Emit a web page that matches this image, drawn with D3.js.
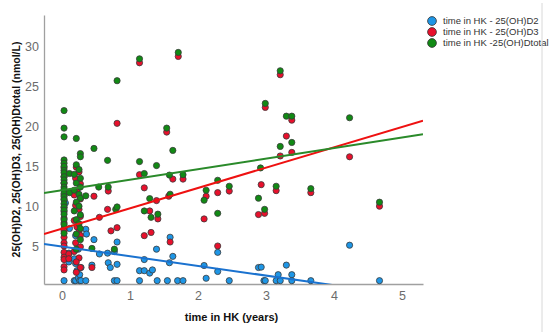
<!DOCTYPE html>
<html>
<head>
<meta charset="utf-8">
<script src="https://cdn.jsdelivr.net/npm/d3@7/dist/d3.min.js"></script>
<style>
  body { margin: 0; background: #fff; }
  svg { display: block; font-family: "Liberation Sans", Arial, sans-serif; }
</style>
</head>
<body>
<div id="graf"></div>
<script>
// Series: [tiempo en HK (años), valor (nmol/L)]
const d2Points = [
  [0.03, 0.65], [0.05, 10.4], [0.11, 7.2], [0.1, 4.1], [0.1, 3.0],
  [0.18, 0.65], [0.18, 3.4], [0.2, 0.65], [0.2, 6.3], [0.2, 2.8], [0.22, 1.9],
  [0.24, 4.6], [0.24, 1.0], [0.26, 0.65], [0.26, 1.4], [0.28, 0.65], [0.28, 2.3],
  [0.35, 7.1], [0.36, 6.5], [0.35, 0.65], [0.44, 2.6], [0.47, 5.8], [0.55, 4.0],
  [0.67, 4.1], [0.68, 2.9], [0.71, 2.3], [0.77, 4.3], [0.77, 0.65], [0.81, 5.5],
  [0.81, 2.7], [0.81, 0.65], [1.14, 1.9], [1.14, 0.65], [1.21, 3.3], [1.21, 1.9],
  [1.29, 1.6], [1.33, 2.0], [1.39, 4.6], [1.4, 0.65], [1.55, 0.65], [1.58, 2.9],
  [1.59, 6.1], [1.63, 3.7], [1.7, 0.65], [1.78, 0.65], [2.09, 2.55], [2.12, 0.95],
  [2.29, 4.2], [2.29, 1.8], [2.46, 0.65], [2.89, 2.3], [2.93, 2.35], [2.97, 0.65],
  [2.99, 0.65], [3.15, 0.65], [3.18, 1.4], [3.21, 0.65], [3.3, 2.6], [3.38, 1.4],
  [3.38, 0.65], [3.66, 0.65], [4.23, 5.1], [4.67, 0.65]
]

const d3Points = [
  [0.03, 14.8], [0.03, 13.7], [0.03, 12.9], [0.03, 11.4], [0.03, 10.9], [0.03, 9.8],
  [0.03, 9.3], [0.03, 8.5], [0.03, 7.9], [0.03, 7.2], [0.03, 6.9], [0.03, 6.1],
  [0.03, 5.4], [0.03, 5.0], [0.03, 4.2], [0.03, 3.6], [0.03, 3.3], [0.03, 2.4],
  [0.03, 2.0], [0.1, 4.0], [0.1, 3.4],
  [0.21, 14.9], [0.25, 14.3], [0.2, 13.5], [0.27, 12.8], [0.22, 12.0], [0.18, 11.4],
  [0.27, 10.9], [0.2, 10.1], [0.25, 9.6], [0.27, 8.7], [0.18, 8.2], [0.22, 7.4],
  [0.25, 6.8], [0.27, 6.3], [0.2, 5.4], [0.27, 4.9], [0.18, 4.3], [0.25, 3.5],
  [0.21, 3.0], [0.27, 2.3], [0.21, 1.7],
  [0.44, 2.3], [0.47, 11.25], [0.55, 8.6], [0.67, 9.6], [0.68, 11.9], [0.72, 6.9],
  [0.81, 7.3], [0.81, 20.4], [1.14, 28.0], [1.14, 13.95], [1.21, 12.3], [1.29, 9.4],
  [1.21, 6.3], [1.31, 6.7], [1.39, 10.7], [1.41, 8.4], [1.54, 19.3], [1.57, 11.25],
  [1.59, 5.5], [1.63, 13.4], [1.71, 28.8], [1.78, 13.4], [2.09, 8.4], [2.12, 11.25],
  [2.29, 11.7], [2.29, 5.0], [2.46, 11.9], [2.89, 8.95], [2.93, 12.7], [2.98, 9.1],
  [2.99, 22.4], [3.15, 11.95], [3.21, 26.5], [3.21, 16.3], [3.3, 18.8], [3.38, 20.8],
  [3.38, 16.75], [3.66, 11.7], [4.23, 16.2], [4.67, 10.0]
]

const totalPoints = [
  [0.03, 22.0], [0.03, 19.8], [0.03, 18.7], [0.03, 15.8], [0.03, 15.4], [0.03, 15.0],
  [0.03, 14.5], [0.03, 14.2], [0.03, 13.7], [0.03, 13.3], [0.03, 12.9], [0.03, 12.4],
  [0.03, 12.1], [0.03, 11.6], [0.03, 11.2], [0.03, 10.8], [0.03, 10.3], [0.03, 9.9],
  [0.03, 9.5], [0.03, 9.0], [0.03, 8.3], [0.03, 7.7], [0.03, 6.6],
  [0.11, 14.1], [0.11, 11.7],
  [0.21, 18.5], [0.27, 16.6], [0.27, 16.2], [0.21, 15.2], [0.25, 14.6], [0.18, 14.0],
  [0.27, 13.5], [0.21, 12.9], [0.27, 12.4], [0.18, 12.0], [0.25, 11.5], [0.27, 11.0],
  [0.21, 10.5], [0.25, 10.0], [0.18, 9.4], [0.27, 8.9], [0.21, 8.3], [0.25, 7.8],
  [0.27, 7.2], [0.21, 6.5], [0.27, 5.8], [0.21, 4.6],
  [0.35, 11.3], [0.44, 4.7], [0.47, 17.25], [0.54, 12.4], [0.67, 15.75], [0.68, 12.4],
  [0.77, 4.6], [0.79, 9.6], [0.81, 9.9], [0.81, 25.75], [1.14, 28.5], [1.14, 15.6],
  [1.21, 14.1], [1.21, 9.4], [1.29, 10.95], [1.31, 8.6], [1.39, 15.1], [1.41, 9.0],
  [1.54, 19.8], [1.58, 13.9], [1.59, 11.5], [1.63, 17.0], [1.71, 29.3], [1.78, 13.95],
  [2.09, 10.75], [2.12, 12.0], [2.29, 13.25], [2.29, 9.1], [2.46, 12.5], [2.89, 11.0],
  [2.92, 14.8], [2.98, 9.6], [2.99, 22.9], [3.15, 12.5], [3.21, 27.0], [3.21, 17.5],
  [3.3, 21.3], [3.38, 21.3], [3.38, 18.0], [3.66, 12.2], [4.23, 21.1], [4.67, 10.5]
]

// Rectas de ajuste (intercepto, pendiente)
const fitIntercepts = [4.93, 7.19, 12.01]
const fitSlopes = [-1.214, 2.55, 1.32]

const seriesNames = [
  'time in HK - 25(OH)D2',
  'time in HK - 25(OH)D3',
  'time in HK -25(OH)Dtotal'
]
const pointColors = ['#1e96e6', '#e8102c', '#118a14']
const lineColors = ['#1a72cf', '#ee1111', '#2a8a2a']

const xTicks = [0, 1, 2, 3, 4, 5]
const yTicks = [5, 10, 15, 20, 25, 30]
const xDomain = [-0.265, 5.31]
const yDomain = [0.23, 34]

const xText = 'time in HK (years)'
const yText = '25(OH)D2, 25(OH)D3, 25(OH)Dtotal (nmol/L)'

const draw = () => {
  const anchoTotal = 550
  const altoTotal = 332

  const margins = { top: 15, right: 127, bottom: 48, left: 44 }
  const ancho = anchoTotal - margins.left - margins.right
  const alto = altoTotal - margins.top - margins.bottom

  const svg = d3.select('#graf')
    .append('svg')
    .attr('width', anchoTotal)
    .attr('height', altoTotal)

  // Escaladores
  const x = d3.scaleLinear().domain(xDomain).range([0, ancho])
  const y = d3.scaleLinear().domain(yDomain).range([alto, 0])

  const g = svg.append('g')
    .attr('transform', `translate(${margins.left}, ${margins.top})`)

  svg.append('defs')
    .append('clipPath')
    .attr('id', 'clip')
    .append('rect')
    .attr('width', ancho)
    .attr('height', alto)

  // Ejes
  const xAxisGroup = g.append('g')
    .attr('transform', `translate(0, ${alto})`)
    .call(d3.axisBottom(x).tickValues(xTicks).tickSize(0).tickPadding(7).tickFormat(d3.format('d')))

  const yAxisGroup = g.append('g')
    .call(d3.axisLeft(y).tickValues(yTicks).tickSize(0).tickPadding(5).tickFormat(d3.format('d')))

  ;[xAxisGroup, yAxisGroup].forEach((ax) => {
    ax.select('.domain').attr('stroke', '#a0a0a0').attr('stroke-width', 1.3)
    ax.selectAll('text')
      .attr('fill', '#6b6b6b')
      .style('font-size', '12.5px')
      .style('font-family', '"Liberation Sans", Arial, sans-serif')
  })

  // Puntos
  const series = [d2Points, d3Points, totalPoints]

  series.forEach((data, i) => {
    g.append('g')
      .selectAll('circle')
      .data(data)
      .join('circle')
      .attr('cx', (d) => x(d[0]))
      .attr('cy', (d) => y(d[1]))
      .attr('r', 3.1)
      .attr('fill', pointColors[i])
      .attr('stroke', '#3a3a3a')
      .attr('stroke-width', 0.8)
  })

  // Rectas de ajuste
  const lineas = g.append('g').attr('clip-path', 'url(#clip)')

  fitIntercepts.forEach((b, i) => {
    const pts = xDomain.map((v) => [v, b + fitSlopes[i] * v])

    lineas.append('path')
      .attr('d', d3.line().x((d) => x(d[0])).y((d) => y(d[1]))(pts))
      .attr('fill', 'none')
      .attr('stroke', lineColors[i])
      .attr('stroke-width', 2)
  })

  // Títulos de ejes
  svg.append('text')
    .text(xText)
    .attr('x', margins.left + x((xDomain[0] + xDomain[1]) / 2) - 2)
    .attr('y', 321)
    .attr('text-anchor', 'middle')
    .style('font-size', '11px')
    .style('font-weight', 'bold')
    .attr('fill', '#111')

  svg.append('text')
    .text(yText)
    .attr('transform', `translate(20, ${margins.top + alto / 2}) rotate(-90)`)
    .attr('text-anchor', 'middle')
    .style('font-size', '10.5px')
    .style('font-weight', 'bold')
    .attr('fill', '#111')

  // Leyenda
  const legend = svg.append('g')
    .attr('transform', 'translate(432, 21)')

  const items = legend.selectAll('g')
    .data(seriesNames)
    .join('g')
    .attr('transform', (d, i) => `translate(0, ${i * 11})`)

  items.append('circle')
    .attr('r', 4.4)
    .attr('fill', (d, i) => pointColors[i])
    .attr('stroke', '#333')
    .attr('stroke-width', 0.8)

  items.append('text')
    .text((d) => d)
    .attr('x', 11)
    .attr('dy', '0.35em')
    .style('font-size', '9.5px')
    .attr('fill', '#333')

  // Borde derecho
  svg.append('line')
    .attr('x1', 542).attr('x2', 542)
    .attr('y1', 3).attr('y2', altoTotal)
    .attr('stroke', '#d8d8d8')
}

draw()
</script>
</body>
</html>
